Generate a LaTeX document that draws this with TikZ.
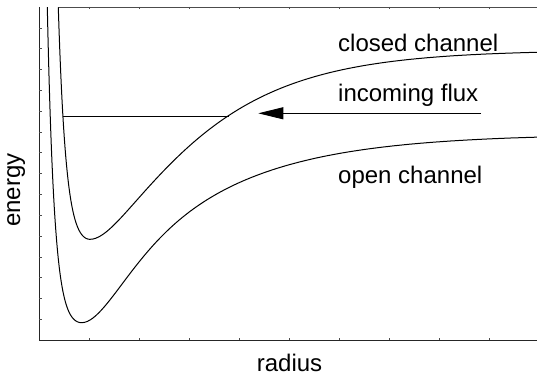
\documentclass[tikz,border=0pt]{standalone}
\usepackage{fontspec}
\setmainfont{Liberation Sans}
\usetikzlibrary{arrows.meta}
\begin{document}
\begin{tikzpicture}[x=1pt,y=1pt,
  declare function={
    sCR(\t)=0.0112*\t+0.1*tanh(min(\t/40,4.5));
    sCL(\t)=0.01731*\t+0.00618*(\t/10)*(\t/10)*(\t/10);
    sOR(\t)=0.0093*\t+0.547*tanh(min(\t/91,4.5));
    sOL(\t)=0.0157*\t+0.007124*(\t/10)*(\t/10)*(\t/10);
    sq(\s)=(1-exp(\s))*(1-exp(\s));
  },
  axisline/.style={line width=0.9pt,black!85},
  tickmark/.style={line width=0.6pt,black!70},
  curve/.style={line width=1pt,black},
  level/.style={line width=0.9pt,black},
  lbl/.style={inner sep=0pt,font=\fontsize{24}{28}\selectfont}]
\useasboundingbox (0,0) rectangle (537,375);
% axes
\coordinate (origin) at (39,35);
\coordinate (ytop) at (39,368);
\coordinate (xend) at (537,35);
\coordinate (topstart) at (58.3,368);
\coordinate (topend) at (537,368);
\draw[axisline] (ytop) -- (origin) -- (xend);
\draw[tickmark] (topstart) -- (topend);
\foreach \k in {1,...,15} \draw[tickmark] (39,35+20.8*\k) -- ++(2.5,0);
\foreach \k in {1,...,9} {
  \draw[tickmark] (39+50*\k,35) -- ++(0,2.5);
  \draw[tickmark] (39+50*\k,368) -- ++(0,-2.5);
}
% closed channel
\draw[curve] plot[domain=58.3:90,samples=90,variable=\x] (\x,{135.7+189.3*sq(sCL(90-\x))})
  -- plot[domain=90:537,samples=160,variable=\x] (\x,{135.7+189.3*sq(-sCR(\x-90))});
% open channel
\draw[curve] plot[domain=47.3:81.7,samples=90,variable=\x] (\x,{52.3+188.7*sq(sOL(81.7-\x))})
  -- plot[domain=81.7:537,samples=160,variable=\x] (\x,{52.3+188.7*sq(-sOR(\x-81.7))});
% level and incoming flux
\coordinate (wallL) at (62.9,259);
\coordinate (cross) at (228.5,259);
\draw[level] (wallL) -- (cross);
\coordinate (fluxStart) at (481,261.7);
\coordinate (fluxTip) at (258.3,261.7);
\draw[level,-{Triangle[length=25pt,width=12pt]}] (fluxStart) -- (fluxTip);
% labels
\node[lbl,anchor=base west] (closed) at (338,323.3) {closed channel};
\node[lbl,anchor=base west] (flux) at (338,273.3) {incoming flux};
\node[lbl,anchor=base west] (open) at (338,191.7) {open channel};
\node[lbl,anchor=base,rotate=90] (energy) at (20,185) {energy};
\node[lbl,anchor=base] (radius) at (289.5,4) {radius};
\end{tikzpicture}
\end{document}
